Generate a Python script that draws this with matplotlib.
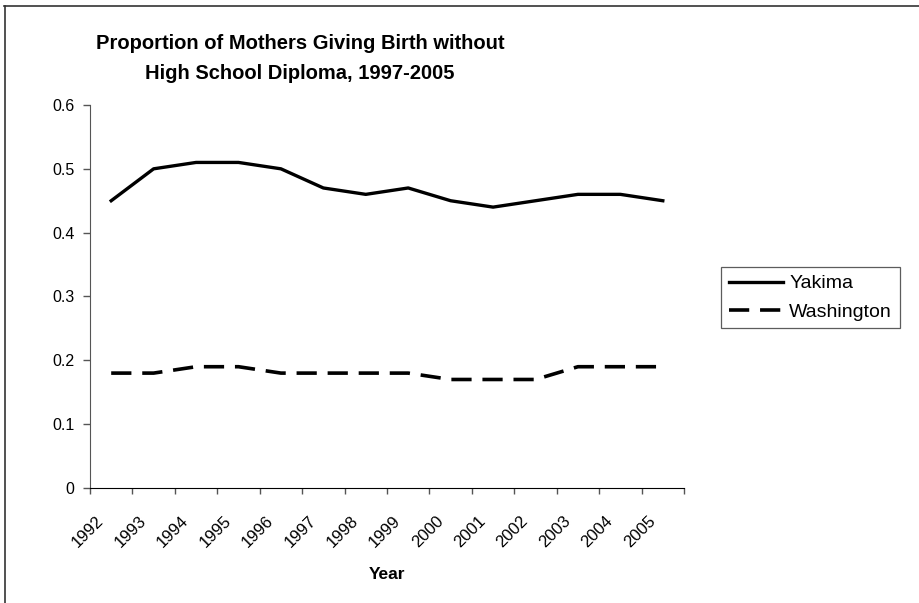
import numpy as np
import matplotlib.pyplot as plt
import matplotlib.transforms as mtransforms
from matplotlib.lines import Line2D

plt.rcParams["font.family"] = ["Liberation Sans", "DejaVu Sans"]

# ---- DATA ----
years = ["1992", "1993", "1994", "1995", "1996", "1997", "1998",
         "1999", "2000", "2001", "2002", "2003", "2004", "2005"]
yakima = [0.45, 0.50, 0.51, 0.51, 0.50, 0.47, 0.46,
          0.47, 0.45, 0.44, 0.45, 0.46, 0.46, 0.45]
washington = [0.18, 0.18, 0.19, 0.19, 0.18, 0.18, 0.18,
              0.18, 0.17, 0.17, 0.17, 0.19, 0.19, 0.19]
y_ticks = [0, 0.1, 0.2, 0.3, 0.4, 0.5, 0.6]
y_labels = ["0", "0.1", "0.2", "0.3", "0.4", "0.5", "0.6"]

fig = plt.figure(figsize=(9.2, 6.03), dpi=100)
ax = fig.add_axes([0.0978, 0.1907, 0.6457, 0.6352])

x = np.arange(len(years))
ax.plot(x, yakima, color="black", lw=2.4, label="Yakima")
ax.plot(x, washington, color="black", lw=2.6, dashes=(5.6, 3.0),
        label="Washington")

ax.set_xlim(-0.5, len(years) - 0.5)
ax.set_ylim(0, 0.6)

# category ticks: labels at centers, tick marks at boundaries
ax.set_xticks(x)
ax.set_xticklabels(years, rotation=45, ha="center", va="top", fontsize=12)
ax.tick_params(axis="x", which="major", length=0, pad=18)
shift = mtransforms.ScaledTranslation(-0.23, 0, fig.dpi_scale_trans)
for lbl in ax.get_xticklabels():
    lbl.set_transform(lbl.get_transform() + shift)
ax.set_xticks(np.arange(len(years) + 1) - 0.5, minor=True)
ax.tick_params(axis="x", which="minor", length=4.5, width=1,
               direction="out", color="#555555")

ax.set_yticks(y_ticks)
ax.set_yticklabels(y_labels, fontsize=11.5)
ax.tick_params(axis="y", length=5, width=1, direction="out",
               color="#555555", pad=6)

for side in ["top", "right"]:
    ax.spines[side].set_visible(False)
ax.spines["left"].set_color("#555555")
ax.spines["bottom"].set_color("black")

ax.text(0.5, -0.225, "Year", transform=ax.transAxes, ha="center",
        va="center", fontsize=12.5, fontweight="bold")

fig.text(0.326, 0.903, "Proportion of Mothers Giving Birth without\n"
         "High School Diploma, 1997-2005",
         ha="center", va="center", fontsize=14.5, fontweight="bold",
         linespacing=1.75)

leg = ax.legend(loc="upper left", bbox_to_anchor=(0.7837, 0.5572),
                bbox_transform=fig.transFigure, borderaxespad=0,
                fontsize=14, frameon=True, fancybox=False,
                handlelength=2.8, handletextpad=0.3, borderpad=0.4,
                labelspacing=0.55)
leg.get_frame().set_edgecolor("#333333")
leg.get_frame().set_linewidth(0.9)

# chart area border (top and left edges visible in the crop)
fig.add_artist(Line2D([0.004, 1.0], [0.990, 0.990], color="#333333", lw=1.2,
                      transform=fig.transFigure))
fig.add_artist(Line2D([0.005, 0.005], [0.0, 0.990], color="#333333", lw=1.2,
                      transform=fig.transFigure))

fig.savefig("out.png", dpi=100)
